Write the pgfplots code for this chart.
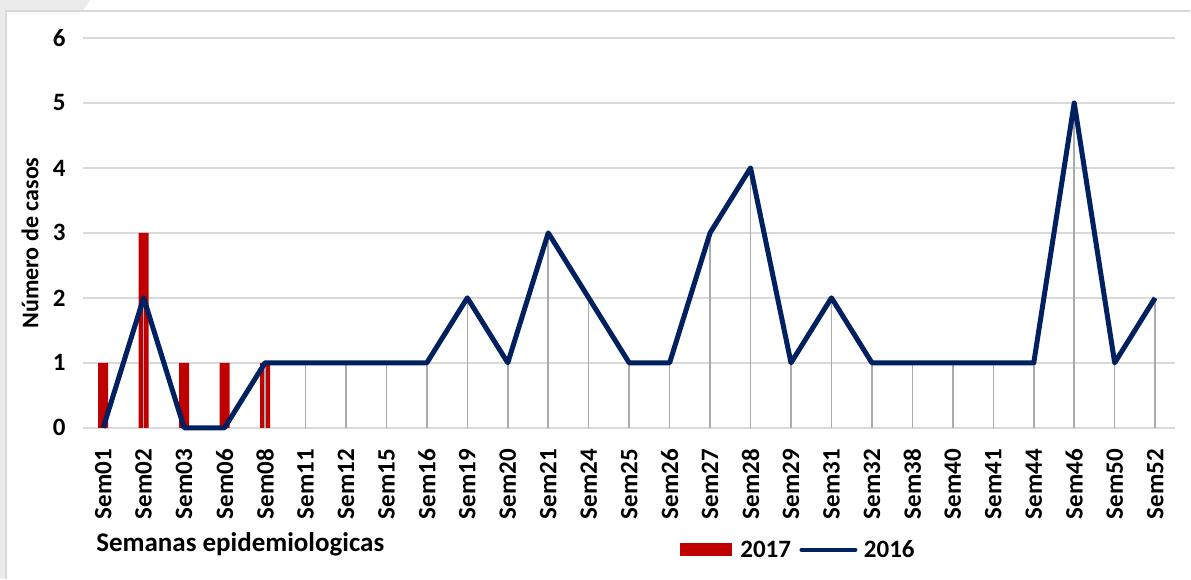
\documentclass[border=0pt]{standalone}
\usepackage{pgfplots}
\pgfplotsset{compat=1.18}
\usepackage{fontspec}
\setmainfont{Carlito}
\definecolor{barred}{RGB}{192,0,0}
\definecolor{navy}{RGB}{0,32,96}
\definecolor{gridgray}{RGB}{217,217,217}
\definecolor{dropgray}{RGB}{170,170,170}
\definecolor{edgegray}{RGB}{235,235,235}
\newcommand{\tickfont}{\fontsize{25}{30}\selectfont\bfseries}
\newcommand{\xlblfont}{\fontsize{27}{32}\selectfont\bfseries}
\newcommand{\ylblfont}{\fontsize{24}{28}\selectfont\bfseries}
\newcommand{\legfont}{\fontsize{25}{30}\selectfont\bfseries}

\begin{document}
\begin{tikzpicture}
\begin{axis}[
    scale only axis,
    width=1093pt, height=390pt,
    xmin=-0.5, xmax=26.5,
    ymin=0, ymax=6,
    xtick={0,...,26},
    xticklabels={Sem01,Sem02,Sem03,Sem06,Sem08,Sem11,Sem12,Sem15,Sem16,Sem19,Sem20,Sem21,Sem24,Sem25,Sem26,Sem27,Sem28,Sem29,Sem31,Sem32,Sem38,Sem40,Sem41,Sem44,Sem46,Sem50,Sem52},
    ytick={0,...,6},
    ymajorgrids,
    grid style={gridgray, line width=1.5pt},
    axis line style={draw=none},
    tick style={draw=none},
    /pgf/number format/assume math mode=true,
    tick label style={font=\tickfont},
    x tick label style={rotate=90, anchor=east, xshift=-18pt},
    y tick label style={xshift=-14pt},
    xlabel={Semanas epidemiologicas},
    xlabel style={font=\xlblfont, at={(axis description cs:0.009,-0.30)}, anchor=west},
    ylabel={Número de casos},
    ylabel style={font=\ylblfont, at={(axis description cs:-0.0485,0.474)}, anchor=center},
    legend columns=2,
    legend style={draw=none, fill=none, font=\legfont,
        at={(axis description cs:0.655,-0.313)}, anchor=center,
        /tikz/every even column/.append style={column sep=2pt}},
    clip=false,
]
% 2017 (bars)
\addplot[ybar, bar width=10pt, fill=barred, draw=none,
    legend image code/.code={\fill[barred] (0pt,-6.5pt) rectangle (52pt,6.5pt); \path (58pt,0pt);}]
    coordinates {(0,1) (1,3) (2,1) (3,1) (4,1)};
\addlegendentry{2017}
% drop lines of 2016
\addplot[ycomb, dropgray, line width=1.5pt, forget plot] coordinates {
    (0,0) (1,2) (2,0) (3,0) (4,1) (5,1) (6,1) (7,1) (8,1) (9,2) (10,1) (11,3) (12,2) (13,1)
    (14,1) (15,3) (16,4) (17,1) (18,2) (19,1) (20,1) (21,1) (22,1) (23,1) (24,5) (25,1) (26,2)};
% 2016 (line)
\addplot[navy, line width=5pt, mark=none, line join=round,
    legend image code/.code={\draw[navy, line width=4pt, line cap=round] (0pt,0pt) -- (54pt,0pt); \path (-4pt,0pt) (58pt,0pt);}]
    coordinates {
    (0,0) (1,2) (2,0) (3,0) (4,1) (5,1) (6,1) (7,1) (8,1) (9,2) (10,1) (11,3) (12,2) (13,1)
    (14,1) (15,3) (16,4) (17,1) (18,2) (19,1) (20,1) (21,1) (22,1) (23,1) (24,5) (25,1) (26,2)};
\addlegendentry{2016}
\end{axis}
% frame of the chart area
\fill[edgegray] ([xshift=-83pt,yshift=428pt]current axis.south west) -- ([xshift=7pt,yshift=428pt]current axis.south west)
    -- ([xshift=0pt,yshift=417pt]current axis.south west) -- ([xshift=-77pt,yshift=417pt]current axis.south west)
    -- ([xshift=-77pt,yshift=-151pt]current axis.south west) -- ([xshift=-83pt,yshift=-151pt]current axis.south west) -- cycle;
\draw[gridgray, line width=1.2pt] ([xshift=-77pt,yshift=-151pt]current axis.south west)
    -- ([xshift=-77pt,yshift=417pt]current axis.south west) -- ([xshift=1108pt,yshift=417pt]current axis.south west);
\path[use as bounding box] ([xshift=-83pt,yshift=428pt]current axis.south west) rectangle ([xshift=1108pt,yshift=-151pt]current axis.south west);
\end{tikzpicture}
\end{document}
